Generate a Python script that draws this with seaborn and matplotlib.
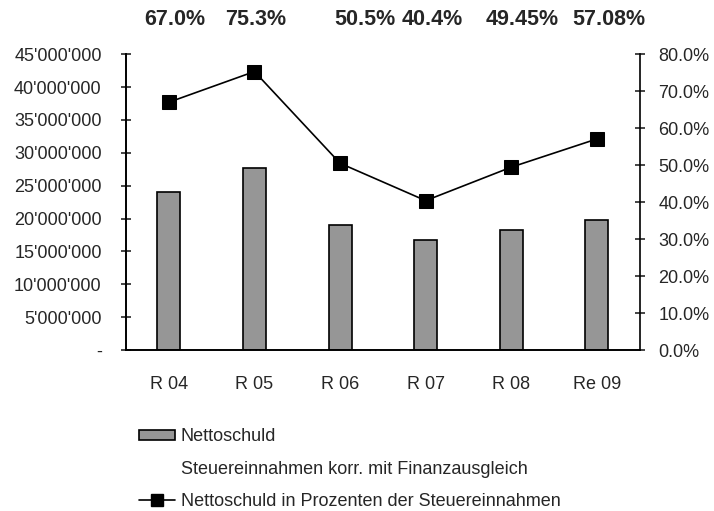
import numpy as np
import pandas as pd
import seaborn as sns
import matplotlib.pyplot as plt
from matplotlib.ticker import FuncFormatter, FixedLocator
from matplotlib.patches import Patch
from matplotlib.lines import Line2D

# data
jahre = ["R 04", "R 05", "R 06", "R 07", "R 08", "Re 09"]
nettoschuld = [24_000_000, 27_650_000, 18_950_000, 16_700_000, 18_200_000, 19_800_000]
prozent = [67.0, 75.3, 50.5, 40.4, 49.45, 57.08]
prozent_labels = ["67.0%", "75.3%", "50.5%", "40.4%", "49.45%", "57.08%"]

sns.set_style("white")
plt.rcParams["font.family"] = ["Liberation Sans", "DejaVu Sans"]

df = pd.DataFrame({"jahr": jahre, "nettoschuld": nettoschuld, "prozent": prozent})
df["pos"] = np.arange(len(df))

fig = plt.figure(figsize=(7.14, 5.11), dpi=100)
ax = fig.add_axes([0.1765, 0.315, 0.7195, 0.579])

sns.barplot(data=df, x="jahr", y="nettoschuld", ax=ax, color="#969696",
            saturation=1, width=0.27, edgecolor="black", linewidth=1.2)
ax.set_xlim(-0.5, len(jahre) - 0.5)
ax.set_ylim(0, 45_000_000)
ax.set_yticks(np.arange(0, 45_000_001, 5_000_000))


def chf(v, pos):
    if v == 0:
        return "-"
    return f"{int(v):,}".replace(",", "'")


ax.yaxis.set_major_formatter(FuncFormatter(chf))
ax.set_xlabel("")
ax.set_ylabel("")

ax2 = ax.twinx()
sns.lineplot(data=df, x="pos", y="prozent", ax=ax2, color="black", linewidth=1.2,
             marker="s", markersize=10, markeredgecolor="black")
ax2.set_ylim(0, 80)
ax2.set_yticks(np.arange(0, 81, 10))
ax2.yaxis.set_major_formatter(FuncFormatter(lambda v, p: f"{v:.1f}%"))
ax2.set_xlim(-0.5, len(jahre) - 0.5)
ax2.set_xlabel("")
ax2.set_ylabel("")

for a in (ax, ax2):
    for s in a.spines.values():
        s.set_linewidth(1.2)
        s.set_color("black")
    a.spines["top"].set_visible(False)
    a.grid(False)
ax.spines["right"].set_visible(False)

ax.tick_params(axis="y", direction="inout", length=7, width=1.2, labelsize=13, pad=14)
ax2.tick_params(axis="y", direction="inout", length=7, width=1.2, labelsize=13, pad=10)
ax.tick_params(axis="x", which="major", length=0, labelsize=13, pad=19)
ax.xaxis.set_minor_locator(FixedLocator(np.arange(-0.5, len(jahre), 1.0)))
ax.tick_params(axis="x", which="minor", direction="inout", length=7, width=1.2)
ax2.tick_params(axis="x", length=0)

# percentage labels above the chart
label_x = [175, 256, 365, 432, 522, 609]
for xp, txt in zip(label_x, prozent_labels):
    fig.text(xp / 714, 1 - 19 / 511, txt, ha="center", va="center",
             fontsize=15.5, fontweight="bold")

handles = [
    Patch(facecolor="#969696", edgecolor="black", linewidth=1.2),
    Patch(facecolor="none", edgecolor="none"),
    Line2D([0], [0], color="black", linewidth=1.2, marker="s", markersize=9),
]
labels = ["Nettoschuld", "Steuereinnahmen korr. mit Finanzausgleich",
          "Nettoschuld in Prozenten der Steuereinnahmen"]
fig.legend(handles, labels, loc="upper left", bbox_to_anchor=(0.185, 0.176),
           frameon=False, fontsize=13, handlelength=2.0, handleheight=0.45,
           handletextpad=0.3, labelspacing=0.85, borderaxespad=0)

plt.savefig("out.png", dpi=100)
